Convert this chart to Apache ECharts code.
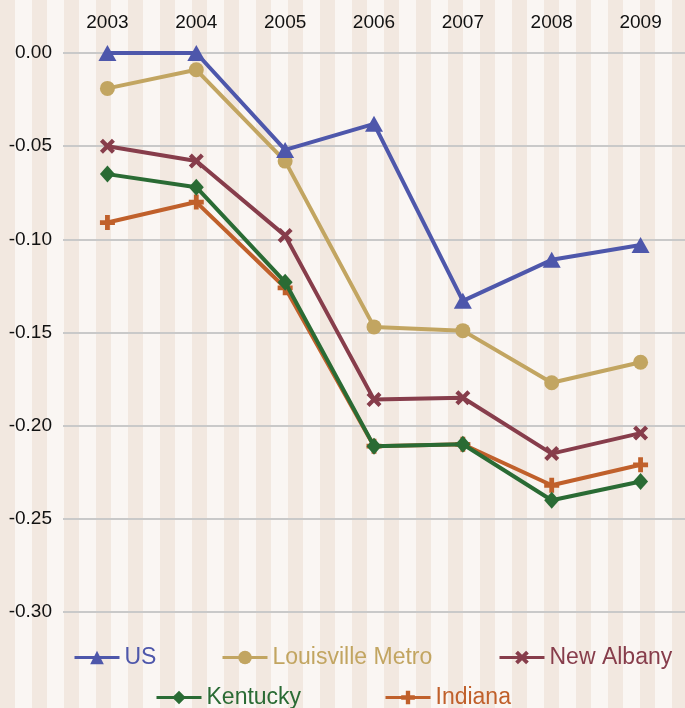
<!DOCTYPE html>
<html>
<head>
<meta charset="utf-8">
<script src="https://cdn.jsdelivr.net/npm/echarts@6/dist/echarts.min.js"></script>
<style>
  html, body { margin: 0; padding: 0; }
  body {
    width: 685px; height: 708px; overflow: hidden;
    background: repeating-linear-gradient(to right,
      #f2e8e0 0px, #f2e8e0 15px, #faf6f3 15px, #faf6f3 32px);
  }
  #chart { width: 685px; height: 708px; }
</style>
</head>
<body>
<div id="chart"></div>
<script>
// Years along the top axis
const years = ['2003', '2004', '2005', '2006', '2007', '2008', '2009'];

// Change values per area
const usValues         = [0.000, 0.000, -0.052, -0.038, -0.133, -0.111, -0.103];
const louisvilleValues = [-0.019, -0.009, -0.058, -0.147, -0.149, -0.177, -0.166];
const newAlbanyValues  = [-0.050, -0.058, -0.098, -0.186, -0.185, -0.215, -0.204];
const kentuckyValues   = [-0.065, -0.072, -0.123, -0.211, -0.210, -0.240, -0.230];
const indianaValues    = [-0.091, -0.080, -0.126, -0.211, -0.210, -0.232, -0.221];

// Y axis ticks
const yTicks = [0.00, -0.05, -0.10, -0.15, -0.20, -0.25, -0.30];

const crossPath = 'path://M2,0 L5,3 L8,0 L10,2 L7,5 L10,8 L8,10 L5,7 L2,10 L0,8 L3,5 L0,2 Z';
const plusPath  = 'path://M3.4,0 H6.6 V3.4 H10 V6.6 H6.6 V10 H3.4 V6.6 H0 V3.4 H3.4 Z';

const seriesDefs = [
  { name: 'US', data: usValues, color: '#4e57ab', symbol: 'triangle', symbolSize: [18, 16], z: 6 },
  { name: 'Louisville Metro', data: louisvilleValues, color: '#c2a561', symbol: 'circle', symbolSize: 15, z: 5 },
  { name: 'New Albany', data: newAlbanyValues, color: '#873d4b', symbol: crossPath, symbolSize: 15, z: 4 },
  { name: 'Indiana', data: indianaValues, color: '#c0602b', symbol: plusPath, symbolSize: 15, z: 2 },
  { name: 'Kentucky', data: kentuckyValues, color: '#2a6b34', symbol: 'diamond', symbolSize: [15, 17], z: 3 }
];

// One legend block per entry, laid out in two rows
const legendSlots = [
  { name: 'US', left: 73, top: 646 },
  { name: 'Louisville Metro', left: 221, top: 646 },
  { name: 'New Albany', left: 498, top: 646 },
  { name: 'Kentucky', left: 155, top: 686 },
  { name: 'Indiana', left: 384, top: 686 }
];

const colorOf = {};
seriesDefs.forEach(s => { colorOf[s.name] = s.color; });

const chart = echarts.init(document.getElementById('chart'), null, { renderer: 'canvas' });

chart.setOption({
  animation: false,
  backgroundColor: 'transparent',
  grid: { left: 63, right: -3, top: 53, bottom: 96, containLabel: false },
  xAxis: {
    type: 'category',
    position: 'top',
    data: years,
    boundaryGap: true,
    axisLine: { show: false },
    axisTick: { show: false },
    splitLine: { show: false },
    axisLabel: {
      margin: 21,
      color: '#111',
      fontSize: 19,
      fontFamily: 'Liberation Sans, Arial, sans-serif'
    }
  },
  yAxis: {
    type: 'value',
    min: Math.min(...yTicks),
    max: Math.max(...yTicks),
    interval: 0.05,
    axisLine: { show: false },
    axisTick: { show: false },
    splitLine: { show: true, lineStyle: { color: '#c9c9c9', width: 2 } },
    axisLabel: {
      margin: 11,
      color: '#111',
      fontSize: 19,
      fontFamily: 'Liberation Sans, Arial, sans-serif',
      formatter: v => v.toFixed(2)
    }
  },
  legend: legendSlots.map(slot => ({
    data: [{ name: slot.name, textStyle: { color: colorOf[slot.name] } }],
    left: slot.left,
    top: slot.top,
    orient: 'horizontal',
    itemWidth: 45,
    itemHeight: 17,
    itemGap: 5,
    padding: 0,
    selectedMode: false,
    lineStyle: { width: 3 },
    textStyle: {
      fontSize: 23,
      fontFamily: 'Liberation Sans, Arial, sans-serif',
      padding: [0, 0, 0, 0]
    }
  })),
  series: seriesDefs.map(s => ({
    name: s.name,
    type: 'line',
    data: s.data,
    symbol: s.symbol,
    symbolSize: s.symbolSize,
    showSymbol: true,
    z: s.z,
    color: s.color,
    lineStyle: { color: s.color, width: 4 },
    itemStyle: { color: s.color, borderWidth: 0 },
    emphasis: { disabled: true }
  }))
});
</script>
</body>
</html>
